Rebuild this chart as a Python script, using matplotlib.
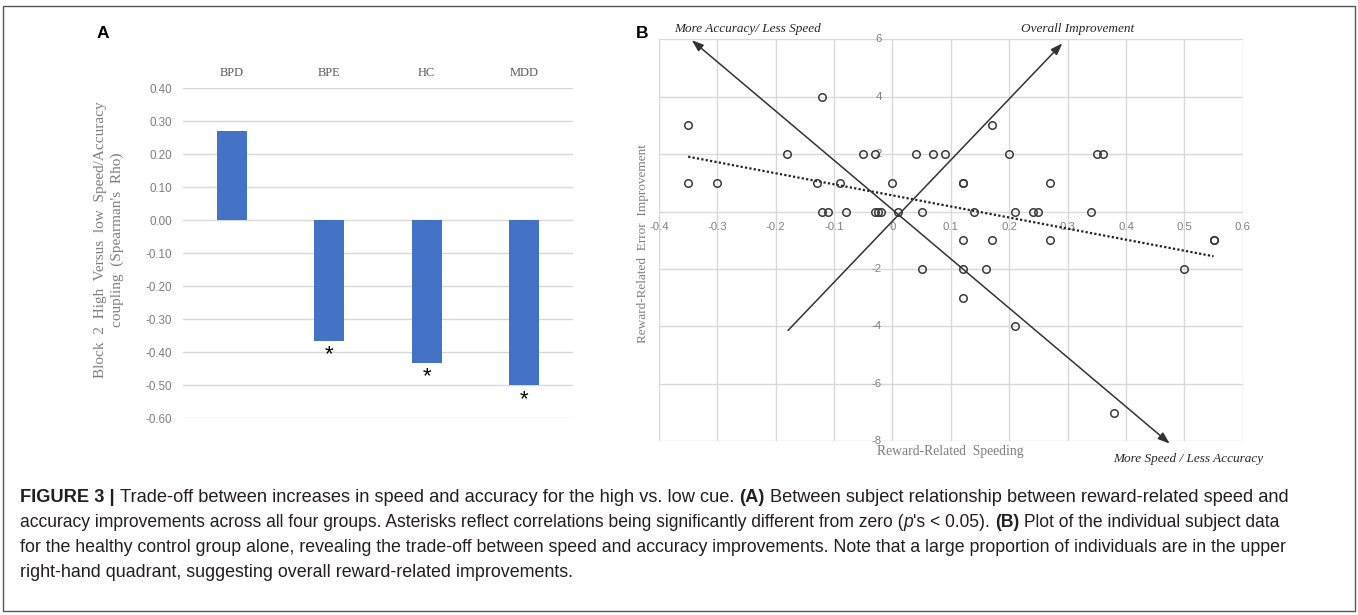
import numpy as np
import matplotlib
matplotlib.use("Agg")
import matplotlib.pyplot as plt
from matplotlib import font_manager
from matplotlib.patches import Rectangle

# ---------------- data ----------------
groups = ["BPD", "BPE", "HC", "MDD"]
rho = [0.27, -0.365, -0.432, -0.50]
significant = [False, True, True, True]
a_yticks = [0.40, 0.30, 0.20, 0.10, 0.00, -0.10, -0.20, -0.30, -0.40, -0.50, -0.60]

speeding = [-0.35, -0.35, -0.30, -0.18, -0.13, -0.12, -0.12, -0.11, -0.09, -0.08,
            -0.05, -0.03, -0.03, -0.025, -0.02, 0.00, 0.01, 0.04, 0.05, 0.05,
            0.07, 0.09, 0.12, 0.12, 0.12, 0.12, 0.12, 0.14, 0.16, 0.17,
            0.17, 0.20, 0.21, 0.21, 0.24, 0.25, 0.27, 0.27, 0.34, 0.35,
            0.36, 0.38, 0.50, 0.55, 0.55]
error_impr = [3, 1, 1, 2, 1, 4, 0, 0, 1, 0,
              2, 2, 0, 0, 0, 1, 0, 2, 0, -2,
              2, 2, 1, 1, -1, -2, -3, 0, -2, 3,
              -1, 2, 0, -4, 0, 0, 1, -1, 0, 2,
              2, -7, -2, -1, -1]
b_xticks = [-0.4, -0.3, -0.2, -0.1, 0.0, 0.1, 0.2, 0.3, 0.4, 0.5, 0.6]
b_xticklabels = ["-0.4", "-0.3", "-0.2", "-0.1", "0", "0.1", "0.2", "0.3", "0.4", "0.5", "0.6"]
b_yticks = [6, 4, 2, -2, -4, -6, -8]

# annotation arrows (data coords of panel B)
acc_arrow_tail = (0.475, -8.08)
acc_arrow_tip = (-0.344, 5.97)
overall_arrow_tail = (-0.179, -4.14)
overall_arrow_tip = (0.291, 5.86)

caption_lines = [
    [("FIGURE 3 |", "bold", "normal"), ("Trade-off between increases in speed and accuracy for the high vs. low cue.", "normal", "normal"),
     ("(A)", "bold", "normal"), ("Between subject relationship between reward-related speed and", "normal", "normal")],
    [("accuracy improvements across all four groups. Asterisks reflect correlations being significantly different from zero (", "normal", "normal"),
     ("p", "normal", "italic"), ("'s < 0.05).", "normal", "normal"), ("(B)", "bold", "normal"),
     ("Plot of the individual subject data", "normal", "normal")],
    [("for the healthy control group alone, revealing the trade-off between speed and accuracy improvements. Note that a large proportion of individuals are in the upper", "normal", "normal")],
    [("right-hand quadrant, suggesting overall reward-related improvements.", "normal", "normal")],
]

# ---------------- figure ----------------
W, H = 1358, 615
fig = plt.figure(figsize=(W / 100, H / 100), dpi=100)
fig.patch.set_facecolor("white")

def fx(px):
    return px / W

def fy(py):
    return 1 - py / H

SERIF = ["Liberation Serif", "DejaVu Serif"]
SANS = ["Liberation Sans", "DejaVu Sans"]
avail = {f.name for f in font_manager.fontManager.ttflist}
CAP = ["Liberation Sans Narrow"] if "Liberation Sans Narrow" in avail else ["Liberation Sans"]

# border
fig.patches.append(Rectangle((fx(3), fy(611)), fx(1352), (611 - 6) / H, transform=fig.transFigure,
                             fill=False, edgecolor="#555555", lw=1.0))

# ---------------- Panel A ----------------
axa = fig.add_axes([fx(183), fy(418.3), fx(390), 330 / H])
xa = np.arange(len(groups))
axa.bar(xa, rho, width=0.31, color="#4472C4", zorder=3)
axa.set_xlim(-0.5, len(groups) - 0.5)
axa.set_ylim(-0.6, 0.4)
axa.set_yticks(a_yticks)
axa.set_yticklabels(["%.2f" % v if abs(v) > 1e-9 else "0.00" for v in a_yticks],
                    fontsize=8.4, color="#7f7f7f", family=SANS)
axa.yaxis.grid(True, color="#d9d9d9", lw=1.0, zorder=0)
axa.set_axisbelow(True)
for s in axa.spines.values():
    s.set_visible(False)
axa.tick_params(axis="y", length=0, pad=8)
axa.xaxis.tick_top()
axa.set_xticks(xa)
axa.set_xticklabels(groups, fontsize=9, color="#595959", family=SERIF)
axa.tick_params(axis="x", length=0, pad=7)
for x, v, sig in zip(xa, rho, significant):
    if sig:
        axa.annotate("*", xy=(x, v), xytext=(0, -10), textcoords="offset points",
                     ha="center", va="center", fontsize=16, color="black", family=SANS)
axa.set_ylabel("Block  2  High  Versus  low  Speed/Accuracy\ncoupling  (Spearman's  Rho)",
               fontsize=11, color="#7f7f7f", family=SERIF, linespacing=1.3)
axa.yaxis.set_label_coords(-0.152, 0.54)

fig.text(fx(103), fy(33), "A", fontsize=12.5, fontweight="bold", family=SANS, ha="center", va="center")

# ---------------- Panel B ----------------
axb = fig.add_axes([fx(659), fy(441.3), fx(583.7), 402 / H])
axb.set_xlim(-0.4, 0.6)
axb.set_ylim(-8, 6)
axb.set_xticks(b_xticks)
axb.set_yticks([6, 4, 2, 0, -2, -4, -6, -8])
axb.grid(True, color="#d9d9d9", lw=1.0, zorder=0)
axb.tick_params(length=0, labelbottom=False, labelleft=False)
for s in axb.spines.values():
    s.set_visible(False)

for x, lab in zip(b_xticks, b_xticklabels):
    axb.annotate(lab, xy=(x, 0), xytext=(0, -11), textcoords="offset points", ha="center", va="center",
                 fontsize=8.2, color="#808080", family=SANS, zorder=2)
for y in b_yticks:
    axb.annotate(str(y), xy=(0, y), xytext=(-7.5, 0), textcoords="offset points", ha="right", va="center",
                 fontsize=8.2, color="#808080", family=SANS, zorder=2, annotation_clip=False)

axb.plot(speeding, error_impr, linestyle="none", marker="o", markersize=5.4, markerfacecolor="none",
         markeredgecolor="#3a3a3a", markeredgewidth=1.1, zorder=4, clip_on=False)

coef = np.polyfit(speeding, error_impr, 1)
xt = np.array([min(speeding), max(speeding)])
axb.plot(xt, np.polyval(coef, xt), linestyle=(0, (1, 1)), color="#222222", lw=1.6, zorder=3)

arrow_kw = dict(color="#333333", lw=1.1, shrinkA=0, shrinkB=0)
axb.annotate("", xy=acc_arrow_tip, xytext=acc_arrow_tail, annotation_clip=False,
             arrowprops=dict(arrowstyle="<|-|>,head_length=0.7,head_width=0.25", **arrow_kw), zorder=5)
axb.annotate("", xy=overall_arrow_tip, xytext=overall_arrow_tail, annotation_clip=False,
             arrowprops=dict(arrowstyle="-|>,head_length=0.7,head_width=0.25", **arrow_kw), zorder=5)

fig.text(fx(748), fy(29), "More Accuracy/ Less Speed", fontsize=9.5, style="italic", family=SERIF,
         color="#262626", ha="center", va="center")
fig.text(fx(1078), fy(29), "Overall Improvement", fontsize=9.5, style="italic", family=SERIF,
         color="#262626", ha="center", va="center")
fig.text(fx(1188), fy(459), "More Speed / Less Accuracy", fontsize=9.5, style="italic", family=SERIF,
         color="#262626", ha="center", va="center")
fig.text(fx(950), fy(452), "Reward-Related  Speeding", fontsize=9.8, family=SERIF,
         color="#7f7f7f", ha="center", va="center")
fig.text(fx(643), fy(244), "Reward-Related  Error  Improvement", fontsize=9.5, family=SERIF,
         color="#7f7f7f", ha="center", va="center", rotation=90)

fig.text(fx(642), fy(33), "B", fontsize=12.5, fontweight="bold", family=SANS, ha="center", va="center")

# ---------------- Caption ----------------
renderer = fig.canvas.get_renderer()

def text_width(s, size, weight, style):
    t = fig.text(0, 0, s, fontsize=size, fontweight=weight, fontstyle=style, family=CAP)
    w = t.get_window_extent(renderer).width
    t.remove()
    return w

def joins_without_space(runs, i):
    return runs[i + 1][0].startswith("'") or runs[i][0].endswith("(")

def line_width(runs, size):
    sp = text_width("a a", size, "normal", "normal") - text_width("aa", size, "normal", "normal")
    total = 0
    for i, (s, wt, st) in enumerate(runs):
        total += text_width(s, size, wt, st)
        if i < len(runs) - 1 and not joins_without_space(runs, i):
            total += sp
    return total

def draw_line(runs, x0, yb, size):
    sp = text_width("a a", size, "normal", "normal") - text_width("aa", size, "normal", "normal")
    x = x0
    for i, (s, wt, st) in enumerate(runs):
        fig.text(fx(x), fy(yb), s, fontsize=size, fontweight=wt, fontstyle=st, family=CAP,
                 color="#231f20", ha="left", va="baseline")
        x += text_width(s, size, wt, st)
        if i < len(runs) - 1 and not joins_without_space(runs, i):
            x += sp

base = 10.0
target = 1291 - 20
sizes = [base * target / line_width(runs, base) for runs in caption_lines[:3]]
sizes.append(float(np.mean(sizes)))
for k, runs in enumerate(caption_lines):
    draw_line(runs, 20, 502 + 25 * k, sizes[k])

fig.savefig("out.png", dpi=100, facecolor="white")
